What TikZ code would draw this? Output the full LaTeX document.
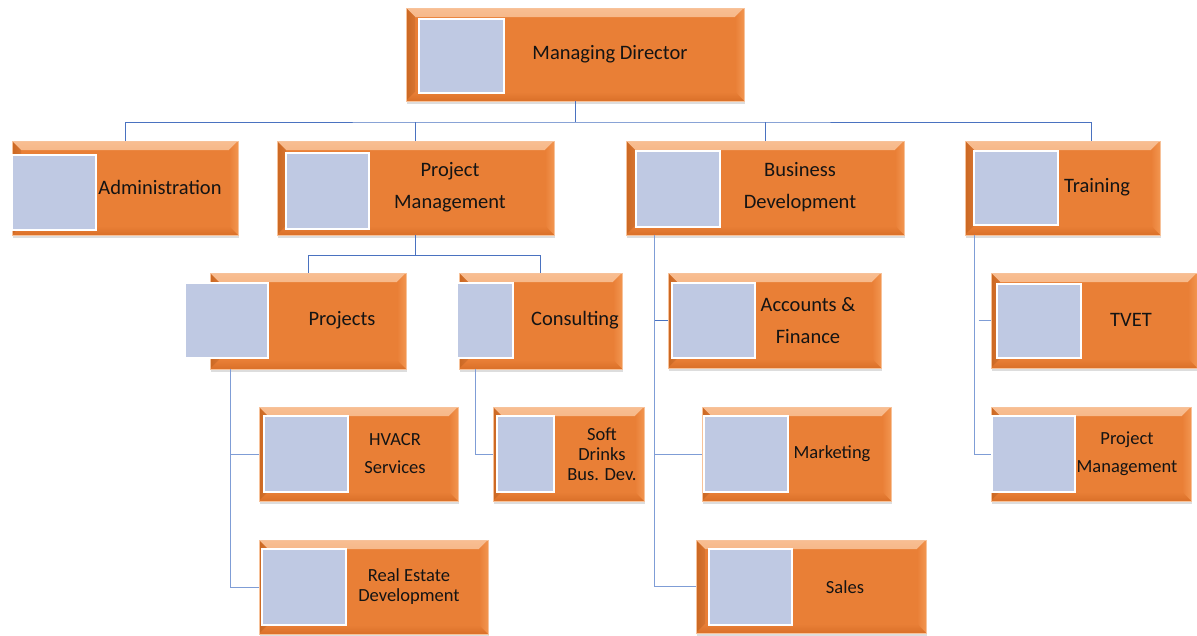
\documentclass[tikz,border=0pt]{standalone}
\usepackage{fontspec}
\setmainfont{Carlito}
\usetikzlibrary{shadows}

\definecolor{face}{HTML}{E97F36}
\definecolor{bvtop}{HTML}{F8BE92}
\definecolor{bvleft}{HTML}{CB6722}
\definecolor{bvright}{HTML}{F29550}
\definecolor{bvbottom}{HTML}{DA7029}
\definecolor{rim}{HTML}{F7C29A}
\definecolor{photo}{HTML}{BFC9E3}
\definecolor{wire}{HTML}{4A72C0}
\definecolor{wirelt}{HTML}{7F9DD6}

\tikzset{
  box/.style={rectangle, inner sep=0pt, draw=rim, line width=0.6pt, fill=face,
    drop shadow={shadow xshift=1pt, shadow yshift=-2.5pt, opacity=0.22, fill=black!60},
    path picture={
      \shade[top color=bvtop, bottom color=face]
        (path picture bounding box.north west) -- (path picture bounding box.north east)
        -- ([xshift=-9pt,yshift=-9pt]path picture bounding box.north east)
        -- ([xshift=9pt,yshift=-9pt]path picture bounding box.north west) -- cycle;
      \shade[left color=bvleft, right color=face!92!black]
        (path picture bounding box.north west) -- (path picture bounding box.south west)
        -- ([xshift=9pt,yshift=9pt]path picture bounding box.south west)
        -- ([xshift=9pt,yshift=-9pt]path picture bounding box.north west) -- cycle;
      \shade[right color=bvright, left color=face]
        (path picture bounding box.north east) -- (path picture bounding box.south east)
        -- ([xshift=-9pt,yshift=9pt]path picture bounding box.south east)
        -- ([xshift=-9pt,yshift=-9pt]path picture bounding box.north east) -- cycle;
      \shade[bottom color=bvbottom, top color=face]
        (path picture bounding box.south west) -- (path picture bounding box.south east)
        -- ([xshift=-9pt,yshift=9pt]path picture bounding box.south east)
        -- ([xshift=9pt,yshift=9pt]path picture bounding box.south west) -- cycle;
    }},
  pic/.style={rectangle, inner sep=0pt, fill=photo, draw=white, line width=1.2pt},
  big/.style={inner sep=0pt, align=center, text=black!92, font=\fontsize{20.5}{32}\selectfont},
  small/.style={inner sep=0pt, align=center, text=black!92, font=\fontsize{18.5}{28}\selectfont},
  tight/.style={font=\fontsize{18.5}{20}\selectfont},
  link/.style={draw=wire, line width=1pt},
  linklt/.style={draw=wirelt, line width=1pt},
}

\begin{document}
\begin{tikzpicture}[x=1pt,y=-1pt]
\useasboundingbox (0,0) rectangle (1197,635);

% ---- boxes ----
\node[box, minimum width=338pt, minimum height=93pt] (md)   at (575,54.5)   {};
\node[box, minimum width=226pt, minimum height=94pt] (adm)  at (125,188)    {};
\node[box, minimum width=277pt, minimum height=94pt] (pm)   at (415.5,188)  {};
\node[box, minimum width=278pt, minimum height=94pt] (bd)   at (765,188)    {};
\node[box, minimum width=195pt, minimum height=94pt] (trn)  at (1062.5,188) {};
\node[box, minimum width=196pt, minimum height=96pt] (prj)  at (308,321)    {};
\node[box, minimum width=163pt, minimum height=96pt] (cns)  at (540.5,321)  {};
\node[box, minimum width=213pt, minimum height=95pt] (acc)  at (774.5,320.5){};
\node[box, minimum width=206pt, minimum height=95pt] (tvet) at (1094,320.5) {};
\node[box, minimum width=199pt, minimum height=94pt] (hvac) at (358.5,454)  {};
\node[box, minimum width=151pt, minimum height=94pt] (sdk)  at (568.5,454)  {};
\node[box, minimum width=189pt, minimum height=94pt] (mkt)  at (796.5,454)  {};
\node[box, minimum width=200pt, minimum height=94pt] (pmt)  at (1091,454)   {};
\node[box, minimum width=229pt, minimum height=94pt] (re)   at (373.5,587)  {};
\node[box, minimum width=230pt, minimum height=93pt] (sal)  at (811,586.5)  {};

% ---- photo placeholders ----
\node[pic, minimum width=85pt, minimum height=74pt] (md-p)   at (461.5,56)   {};
\node[pic, minimum width=84pt, minimum height=75pt] (adm-p)  at (54,192.5)   {};
\node[pic, minimum width=83pt, minimum height=76pt] (pm-p)   at (327.5,191)  {};
\node[pic, minimum width=84pt, minimum height=76pt] (bd-p)   at (678,189)    {};
\node[pic, minimum width=84pt, minimum height=74pt] (trn-p)  at (1016,188)   {};
\node[pic, minimum width=83pt, minimum height=75pt] (prj-p)  at (226.5,320.5){};
\node[pic, minimum width=56pt, minimum height=75pt] (cns-p)  at (485,320.5)  {};
\node[pic, minimum width=83pt, minimum height=75pt] (acc-p)  at (713.5,320.5){};
\node[pic, minimum width=84pt, minimum height=74pt] (tvet-p) at (1039,321)   {};
\node[pic, minimum width=84pt, minimum height=76pt] (hvac-p) at (306,454)    {};
\node[pic, minimum width=57pt, minimum height=76pt] (sdk-p)  at (525.5,454)  {};
\node[pic, minimum width=84pt, minimum height=76pt] (mkt-p)  at (746,454)    {};
\node[pic, minimum width=83pt, minimum height=76pt] (pmt-p)  at (1033.5,454) {};
\node[pic, minimum width=84pt, minimum height=76pt] (re-p)   at (304,587)    {};
\node[pic, minimum width=83pt, minimum height=76pt] (sal-p)  at (750.5,587)  {};

% ---- labels ----
\node[big]   (md-t)   at (610,54)   {Managing Director};
\node[big]   (adm-t)  at (160,187)  {Administration};
\node[big]   (pm-t)   at (450,187)  {Project\\Management};
\node[big]   (bd-t)   at (800,187)  {Business\\Development};
\node[big]   (trn-t)  at (1097,187) {Training};
\node[big]   (prj-t)  at (342,320)  {Projects};
\node[big]   (cns-t)  at (575,320)  {Consulting};
\node[big]   (acc-t)  at (808,321)  {Accounts \&\\Finance};
\node[big]   (tvet-t) at (1131,320) {TVET};
\node[small] (hvac-t) at (395,454)  {HVACR\\Services};
\node[small, tight] (sdk-t) at (602,454) {Soft\\Drinks\\Bus. Dev.};
\node[small] (mkt-t)  at (832,454)  {Marketing};
\node[small] (pmt-t)  at (1127,454) {Project\\Management};
\node[small, tight] (re-t) at (409,587) {Real Estate\\Development};
\node[small] (sal-t)  at (845,587)  {Sales};

% ---- connectors ----
\coordinate (bus) at (575,122);
\draw[link] (md.south) -- (bus);
\draw[link] (adm.north) |- (bus) -| ([xshift=28.5pt]trn.north);
\draw[link] (pm.north) -- (pm.north |- bus);
\draw[link] (bd.north) -- (bd.north |- bus);

\draw[link] (pm.south) -- ++(0,20) coordinate (pmbus);
\draw[link] (prj.north) |- (pmbus) -| (cns.north);

\draw[linklt] ([xshift=21pt]prj.south west) |- (hvac.west);
\draw[linklt] ([xshift=21pt]prj.south west) |- (re.west);
\draw[linklt] ([xshift=17pt]cns.south west) |- (sdk.west);

\draw[link]   ([xshift=29pt]bd.south west) |- (acc.west);
\draw[linklt] ([xshift=29pt]bd.south west) |- (mkt.west);
\draw[linklt] ([xshift=29pt]bd.south west) |- (sal.west);

\draw[linklt] ([xshift=10pt]trn.south west) |- (pmt.west);
\draw[linklt] ([xshift=-12pt]tvet.west) -- (tvet.west);
\end{tikzpicture}
\end{document}
